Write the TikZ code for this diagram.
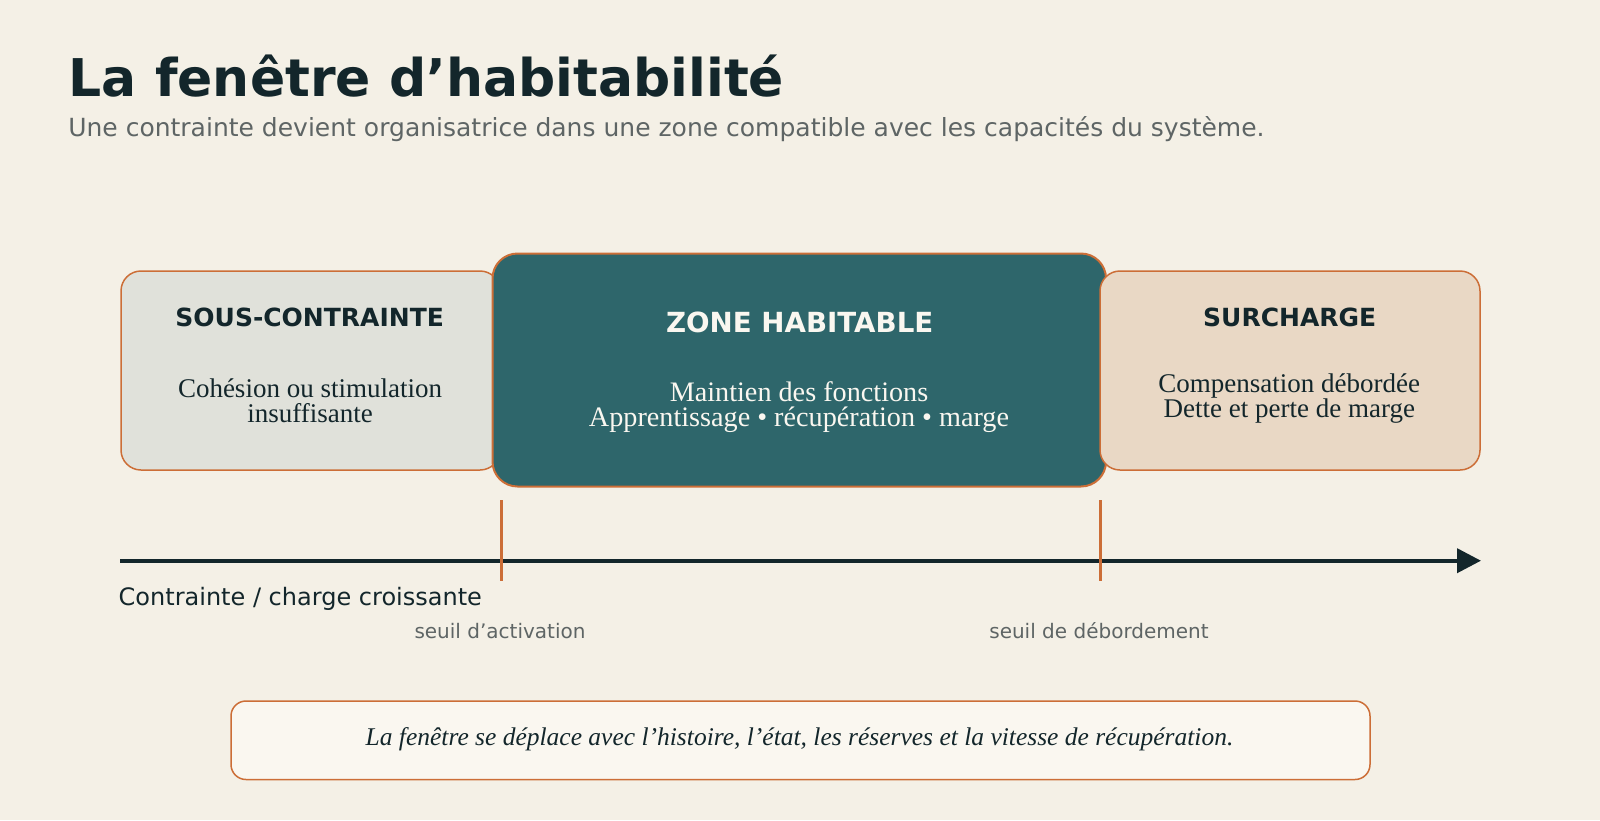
\documentclass[tikz,border=0pt]{standalone}
\usepackage{fontspec}
\setmainfont{Liberation Serif}
\newfontfamily\dejavu{DejaVu Sans}
\usetikzlibrary{arrows.meta}
\definecolor{bg}{HTML}{F4F0E6}
\definecolor{ink}{HTML}{13262B}
\definecolor{greytxt}{HTML}{5E6565}
\definecolor{rust}{HTML}{CC6E37}
\definecolor{teal}{HTML}{2E666B}
\definecolor{lowfill}{HTML}{E0E1DA}
\definecolor{highfill}{HTML}{E9D8C5}
\definecolor{notefill}{HTML}{FAF7F0}
\definecolor{paper}{HTML}{FAF7F0}
\newcommand{\fs}[1]{\fontsize{#1}{#1}\selectfont}
\newcommand{\twolines}[3]{\vtop{\baselineskip=#1pt\lineskiplimit=-100pt\lineskip=0pt\halign{\hfil##\hfil\cr #2\cr #3\cr}}}
\tikzset{
  txt/.style={inner sep=0pt, outer sep=0pt, anchor=base},
  sidebox/.style={draw=rust, line width=1.5pt, rounded corners=20pt, inner sep=0pt, outer sep=0pt},
  zonebox/.style={draw=rust, fill=teal, line width=2pt, rounded corners=25pt, inner sep=0pt, outer sep=0pt},
  notebox/.style={draw=rust, fill=notefill, line width=1.5pt, rounded corners=15pt, inner sep=0pt, outer sep=0pt},
  boxtitle/.style={txt, text=ink, font=\dejavu\bfseries\fs{25}},
  boxbody/.style={txt, text=ink, font=\fs{27}},
  tick/.style={draw=rust, line width=3pt},
  axis/.style={draw=ink, line width=4pt, -{Triangle[length=24pt, width=24pt]}},
  seuil/.style={txt, text=greytxt, font=\dejavu\fs{20}}
}
\begin{document}
\begin{tikzpicture}[x=1pt,y=-1pt]
\fill[bg] (0,0) rectangle (1600,820);
\useasboundingbox (0,0) rectangle (1600,820);

% title
\node[txt, anchor=base west, text=ink, font=\dejavu\bfseries\fs{52}] (title) at (68.8,96.7) {La fenêtre d’habitabilité};
\node[txt, anchor=base west, text=greytxt, font=\dejavu\fs{25}] (subtitle) at (68.3,136) {Une contrainte devient organisatrice dans une zone compatible avec les capacités du système.};

% boxes
\node[sidebox, fill=lowfill, minimum width=379pt, minimum height=199pt] (sous) at (310.5,370.5) {};
\node[zonebox, minimum width=613.5pt, minimum height=233pt] (zone) at (799.25,370) {};
\node[sidebox, fill=highfill, minimum width=380pt, minimum height=199pt] (sur) at (1290,370.5) {};

\node[boxtitle] (sousT) at (309.7,326.7) {SOUS-CONTRAINTE};
\node[boxbody] (sousA) at (310,397.8) {\twolines{24.5}{Cohésion ou stimulation}{insuffisante}};

\node[boxtitle, text=paper, font=\dejavu\bfseries\fs{27.7}] (zoneT) at (799.7,332.7) {ZONE HABITABLE};
\node[boxbody, text=paper, font=\fs{28.2}] (zoneA) at (799,401) {\twolines{25.7}{Maintien des fonctions}{Apprentissage • récupération • marge}};

\node[boxtitle] (surT) at (1289.7,326.7) {SURCHARGE};
\node[boxbody] (surA) at (1289.3,392.8) {\twolines{24.5}{Compensation débordée}{Dette et perte de marge}};

% axis
\coordinate (axL) at (120,560.7);
\coordinate (axR) at (1481,560.7);
\draw[axis] (axL) -- (axR);
\coordinate (t1a) at (501,500);
\coordinate (t1b) at (501,580.7);
\coordinate (t2a) at (1100,500);
\coordinate (t2b) at (1100,580.7);
\draw[tick] (t1a) -- (t1b);
\draw[tick] (t2a) -- (t2b);

\node[txt, anchor=base west, text=ink, font=\dejavu\fs{24}] (axlabel) at (118.7,605) {Contrainte / charge croissante};
\node[seuil] (s1) at (500,638.3) {seuil d’activation};
\node[seuil] (s2) at (1099,638.3) {seuil de débordement};

% note
\node[notebox, minimum width=1139pt, minimum height=78.5pt] (note) at (800.5,740.25) {};
\node[txt, text=ink, font=\itshape\fs{25.5}] (noteT) at (799.5,745) {La fenêtre se déplace avec l’histoire, l’état, les réserves et la vitesse de récupération.};
\end{tikzpicture}
\end{document}
